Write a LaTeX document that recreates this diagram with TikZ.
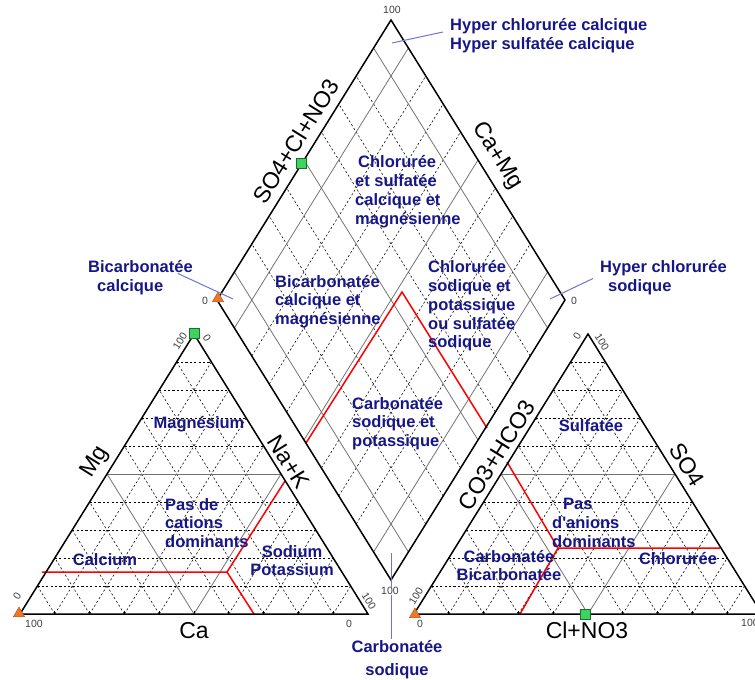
\documentclass[tikz,border=0pt]{standalone}
\usepackage{fontspec}
\setmainfont{Liberation Sans}
\usetikzlibrary{calc}
\usetikzlibrary{shapes.geometric}

\definecolor{zoneblue}{RGB}{22,22,135}
\definecolor{pointerblue}{RGB}{115,115,205}
\definecolor{ptorange}{RGB}{240,118,40}
\definecolor{ptgreen}{RGB}{60,212,92}

\begin{document}
\begin{tikzpicture}[x=1pt, y=-1pt,
    outline/.style={black, line width=1.5pt, line join=miter},
    dashgrid/.style={black, line width=0.55pt, dash pattern=on 2.2pt off 2.2pt},
    solidgrid/.style={black!55, line width=0.8pt},
    classline/.style={red, line width=1.5pt},
    pointer/.style={pointerblue, line width=1pt},
    axislab/.style={font=\fontsize{23}{23}\selectfont, inner sep=0pt},
    numlab/.style={font=\fontsize{10.5}{10.5}\selectfont, text=black!75, inner sep=0pt},
    zonelab/.style={font=\fontsize{16.5}{18.8}\selectfont\bfseries, text=zoneblue, inner sep=0pt},
    orangept/.style={regular polygon, regular polygon sides=3, minimum size=13pt, inner sep=0pt, fill=ptorange, draw=ptorange!70!black, line width=0.4pt},
    greenpt/.style={rectangle, minimum size=10pt, inner sep=0pt, fill=ptgreen, draw=ptgreen!50!black, line width=0.6pt}]
    \useasboundingbox (0,0) rectangle (755,680);

    \def\trigrid#1#2#3#4#5{\foreach \f in {#5}{
        \draw[#4] ($(#1)!\f!(#3)$) -- ($(#2)!\f!(#3)$);
        \draw[#4] ($(#1)!\f!(#2)$) -- ($(#3)!\f!(#2)$);
        \draw[#4] ($(#1)!\f!(#2)$) -- ($(#1)!\f!(#3)$);}}
    \def\diagrid#1#2{\foreach \f in {#2}{
        \draw[#1] ($(dB)!\f!(dR)$) -- ($(dL)!\f!(dT)$);
        \draw[#1] ($(dB)!\f!(dL)$) -- ($(dR)!\f!(dT)$);}}

    % cations, anions, diamond
    \coordinate (ca) at (20,614);
    \coordinate (nak) at (368,614);
    \coordinate (mg) at (194,334);
    \coordinate (hco) at (414,614);
    \coordinate (cl) at (762,614);
    \coordinate (so) at (588,334);
    \coordinate (dB) at (391,580);
    \coordinate (dL) at (217,300);
    \coordinate (dR) at (565,300);
    \coordinate (dT) at (391,20);

    \trigrid{ca}{nak}{mg}{dashgrid}{0.1,0.2,0.3,0.4,0.6,0.7,0.8,0.9}
    \trigrid{ca}{nak}{mg}{solidgrid}{0.5}
    \trigrid{hco}{cl}{so}{dashgrid}{0.1,0.2,0.3,0.4,0.6,0.7,0.8,0.9}
    \trigrid{hco}{cl}{so}{solidgrid}{0.5}
    \diagrid{dashgrid}{0.2,0.3,0.4,0.6,0.7,0.8}
    \diagrid{solidgrid}{0.1,0.5,0.9}

    \foreach \f in {0.1,0.2,0.3,0.4,0.5,0.6,0.7,0.8,0.9}{
        \draw[black, line width=0.8pt] ($(ca)!\f!(nak)$) -- ++(0,-3);
        \draw[black, line width=0.8pt] ($(hco)!\f!(cl)$) -- ++(0,-3);}

    \draw[classline] (42,572) -- (227,572) -- (285,481);
    \draw[classline] (227,572) -- (254,614);
    \draw[classline] (306,443) -- (402,292) -- (487,428);
    \draw[classline] (507,462) -- (558,548) -- (720,548);
    \draw[classline] (558,548) -- (520,614);

    \draw[outline] (ca) -- (nak) -- (mg) -- cycle;
    \draw[outline] (hco) -- (cl) -- (so) -- cycle;
    \draw[outline] (dB) -- (dR) -- (dT) -- (dL) -- cycle;

    \node[axislab, rotate=58] (lmg) at (95,462) {Mg};
    \node[axislab, rotate=-58] (lnak) at (289,462) {Na+K};
    \node[axislab] (lca) at (194,631) {Ca};
    \node[axislab, rotate=58] (lhco) at (497,455) {CO3+HCO3};
    \node[axislab, rotate=-58] (lso) at (687,465) {SO4};
    \node[axislab] (lcl) at (587,630) {Cl+NO3};
    \node[axislab, rotate=58] (lsocl) at (296,141) {SO4+Cl+NO3};
    \node[axislab, rotate=-58] (lcamg) at (497,156) {Ca+Mg};

    \node[numlab] (n1) at (392,10) {100};
    \node[numlab] (n2) at (205,301) {0};
    \node[numlab] (n3) at (574,301) {0};
    \node[numlab, rotate=58] (n5) at (180,341) {100};
    \node[numlab, rotate=-58] (n6) at (207,338) {0};
    \node[numlab, rotate=58] (n7) at (17,596) {0};
    \node[numlab] (n8) at (34,624) {100};
    \node[numlab] (n9) at (349,624) {0};
    \node[numlab, rotate=-58] (n10) at (369,601) {100};
    \node[numlab, rotate=58] (n11) at (577,336) {0};
    \node[numlab, rotate=-58] (n12) at (602,342) {100};
    \node[numlab, rotate=58] (n13) at (416,596) {100};
    \node[numlab] (n14) at (420,624) {0};
    \node[numlab] (n15) at (750,623) {100};

    \node[greenpt] (g1) at (194,333) {};
    \node[greenpt] (g2) at (585,614) {};
    \node[greenpt] (g3) at (301,163) {};
    \node[orangept] (o1) at (19,613.5) {};
    \node[orangept] (o2) at (415,614.5) {};
    \node[orangept] (o3) at (218,298.5) {};

    \node[zonelab, anchor=west, align=left] (zhyca) at (450,36) {Hyper chlorurée calcique\\Hyper sulfatée calcique};
    \node[zonelab, anchor=west, align=left] (zcsca) at (355,191.5) {\hspace*{3pt}Chlorurée\\et sulfatée\\calcique et\\magnésienne};
    \node[zonelab, anchor=west, align=left] (zbicam) at (275,301.5) {Bicarbonatée\\calcique et\\magnésienne};
    \node[zonelab, anchor=west, align=left] (zclna) at (428,306) {Chlorurée\\sodique et\\potassique\\ou sulfatée\\sodique};
    \node[zonelab, anchor=west, align=left] (zcbna) at (352,423.5) {Carbonatée\\sodique et\\potassique};
    \node[zonelab, anchor=west, align=left] (zbica) at (88,277.5) {Bicarbonatée\\\hspace*{9pt}calcique};
    \node[zonelab, anchor=west, align=left] (zhyna) at (600,277.5) {Hyper chlorurée\\\hspace*{8pt}sodique};
    \node[zonelab, align=center] (zcsod) at (397,660) {Carbonatée\\[4pt]sodique};

    \node[zonelab] (zmg) at (199,424) {Magnésium};
    \node[zonelab, anchor=west, align=left] (zpasc) at (165,523) {Pas de\\cations\\dominants};
    \node[zonelab] (zca) at (105,560) {Calcium};
    \node[zonelab, align=center] (zna) at (292,560.5) {Sodium\\Potassium};
    \node[zonelab] (zso) at (591,426) {Sulfatée};
    \node[zonelab, anchor=west, align=left] (zpasa) at (552,523) {\hspace*{11pt}Pas\\d\textquotesingle anions\\dominants};
    \node[zonelab, align=center] (zcb) at (509,565.5) {Carbonatée\\Bicarbonatée};
    \node[zonelab] (zcl) at (678,559) {Chlorurée};

    \coordinate (phyca) at (392,43);
    \coordinate (pbica) at (233,299);
    \coordinate (phyna) at (550,299);
    \coordinate (pcsod) at (391,553);
    \draw[pointer] ([shift={(-7,-4)}]zhyca.west) -- (phyca);
    \draw[pointer] ([shift={(-15,-4)}]zbica.east) -- (pbica);
    \draw[pointer] ([shift={(-7,1)}]zhyna.west) -- (phyna);
    \draw[pointer] (zcsod.north -| pcsod) ++(0,-2) -- (pcsod);
    \node[numlab, fill=white, inner sep=0.5pt] (n4) at (390,591) {100};
\end{tikzpicture}
\end{document}
